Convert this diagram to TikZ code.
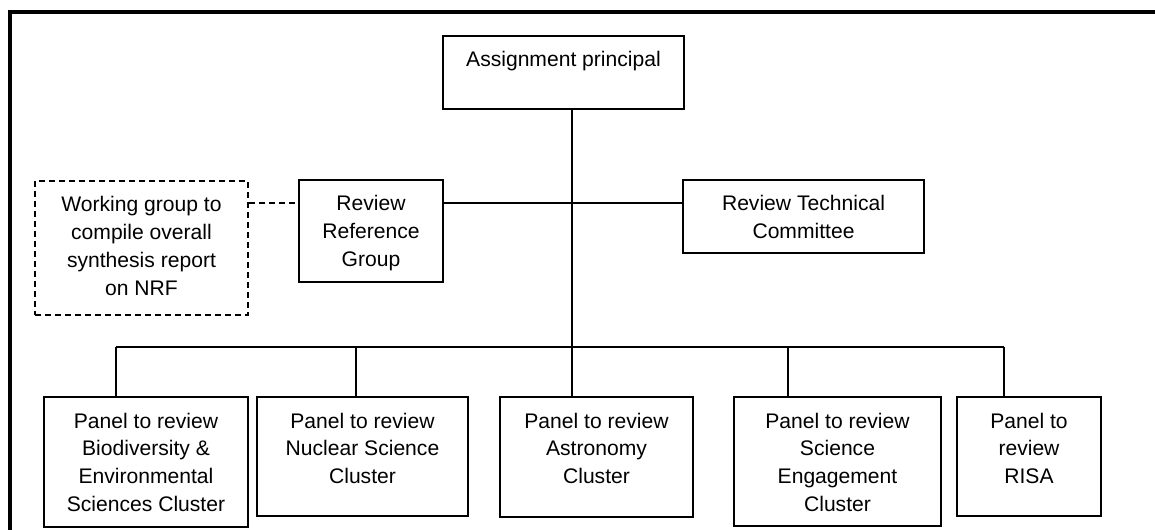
\documentclass[tikz,border=0pt]{standalone}
\usepackage{fontspec}
\setmainfont{Liberation Sans}
\usetikzlibrary{calc}
\newlength{\px}
\setlength{\px}{0.025cm}
\newcommand{\bt}[3]{\parbox[c][#2\px][t]{#1\px}{\centering\rule{0pt}{31\px}#3}}
\tikzset{
  ob/.style={draw, line width=0.05cm, inner sep=0pt, anchor=north west,
             font=\fontsize{15}{19.9}\selectfont},
  wb/.style={ob, dash pattern=on 0.15cm off 0.1cm},
  ln/.style={line width=0.05cm},
  dl/.style={ln, dash pattern=on 0.15cm off 0.1cm},
  fr/.style={line width=0.1cm},
}

\begin{document}
\begin{tikzpicture}[x=0.025cm,y=-0.025cm]
  \useasboundingbox (0,0) rectangle (1155,530);
  \draw[fr] (10,530) |- (1155,12);
  \node[ob] (ap) at (442,35){\bt{241}{73}{Assignment principal}};
  \node[wb] (wg) at (34,180){\bt{213}{134}{Working group to\\compile overall\\synthesis report\\on NRF}};
  \node[ob] (rrg) at (298,179){\bt{144}{102}{Review\\Reference\\Group}};
  \node[ob] (rtc) at (682,179){\bt{241}{73}{Review Technical\\Committee}};
  \node[ob] (p1) at (43,396){\bt{204}{130}{Panel to review\\Biodiversity \&\\Environmental\\Sciences Cluster}};
  \node[ob] (p2) at (256,396){\bt{211}{119}{Panel to review\\Nuclear Science\\Cluster}};
  \node[ob] (p3) at (499,396){\bt{193}{120}{Panel to review\\Astronomy\\Cluster}};
  \node[ob] (p4) at (733,396){\bt{207}{129}{Panel to review\\Science\\Engagement\\Cluster}};
  \node[ob] (p5) at (956,396){\bt{144}{119}{Panel to\\review\\RISA}};
  \coordinate (j) at (572,203);
  \coordinate (d1) at (116,347);
  \coordinate (d2) at (356,347);
  \coordinate (d3) at (572,347);
  \coordinate (d4) at (788,347);
  \coordinate (d5) at (1004,347);
  \draw[ln] (ap.south -| d3) -- (d3);
  \draw[ln] (rrg.east |- j) -- (rtc.west |- j);
  \draw[dl] (wg.east |- j) -- (rrg.west |- j);
  \draw[ln] (d1) -- (d5);
  \draw[ln] (d1) -- (d1 |- p1.north);
  \draw[ln] (d2) -- (d2 |- p2.north);
  \draw[ln] (d3) -- (d3 |- p3.north);
  \draw[ln] (d4) -- (d4 |- p4.north);
  \draw[ln] (d5) -- (d5 |- p5.north);
\end{tikzpicture}
\end{document}
